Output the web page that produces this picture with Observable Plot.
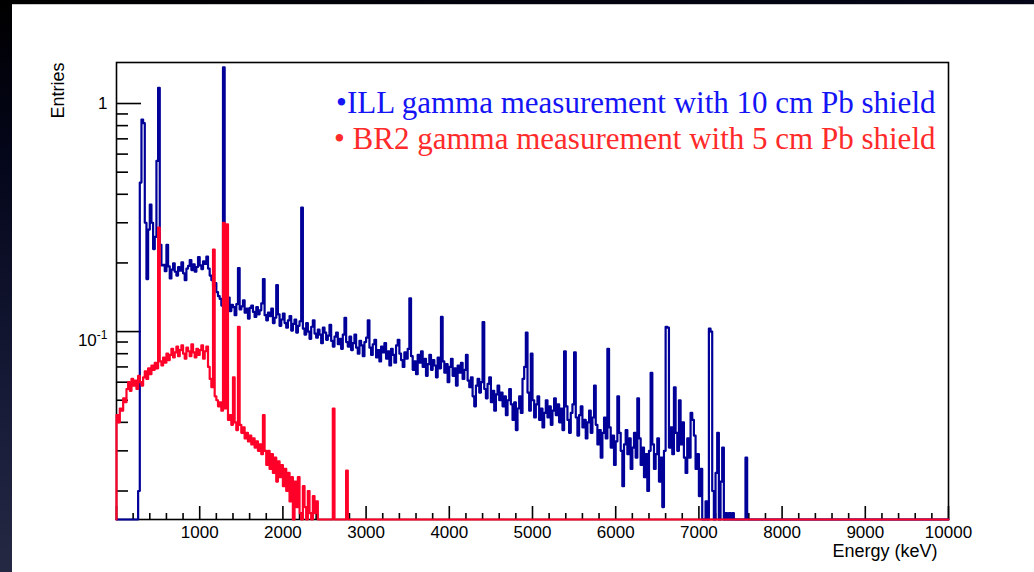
<!DOCTYPE html>
<html>
<head>
<meta charset="utf-8">
<script src="https://cdn.jsdelivr.net/npm/d3@7"></script>
<script src="https://cdn.jsdelivr.net/npm/@observablehq/plot@0.6"></script>
<style>
  html, body { margin: 0; padding: 0; }
  body {
    width: 1034px; height: 572px; overflow: hidden; position: relative;
    background: linear-gradient(172deg, #000000 0%, #04061a 22%, #161a36 55%, #30344e 100%);
  }
  #panel {
    position: absolute; left: 12px; top: 4px; width: 1022px; height: 568px;
    box-sizing: border-box; border-top: 1px solid #c9c9c9; background: #ffffff;
  }
  #panel svg { display: block; }
</style>
</head>
<body>
<div id="panel"></div>
<script>
// Gamma spectra, 20 keV bins, normalised entries per bin.
const binWidth = 20;

// ILL measurement (10 cm Pb shield), bins starting at 240 keV
const illStart = 240;
const illCounts = [
  0.005, 0.02, 0.45, 0.85, 0.82, 0.30, 0.17, 0.28, 0.36, 0.30,          // 240–420
  0.23, 0.26, 0.56, 1.17, 0.24, 0.195, 0.196, 0.184, 0.240, 0.193,      // 440–620
  0.171, 0.187, 0.199, 0.183, 0.176, 0.192, 0.185, 0.201, 0.180, 0.168, // 640–820
  0.189, 0.194, 0.206, 0.186, 0.197, 0.183, 0.192, 0.212, 0.195, 0.188, // 840–1020
  0.203, 0.198, 0.213, 0.189, 0.176, 0.168, 0.159, 0.163, 0.149, 0.143, // 1040–1220
  0.139, 0.130, 1.44, 0.134, 0.127, 0.141, 0.123, 0.131, 0.128, 0.118,  // 1240–1420
  0.132, 0.19, 0.125, 0.129, 0.137, 0.121, 0.126, 0.114, 0.127, 0.130,  // 1440–1620
  0.122, 0.116, 0.128, 0.119, 0.124, 0.133, 0.17, 0.118, 0.112, 0.121,  // 1640–1820
  0.117, 0.126, 0.109, 0.115, 0.16, 0.119, 0.106, 0.113, 0.120, 0.109,  // 1840–2020
  0.104, 0.112, 0.117, 0.101, 0.108, 0.113, 0.099, 0.106, 0.111, 0.35,  // 2040–2220
  0.103, 0.097, 0.109, 0.100, 0.093, 0.105, 0.112, 0.098, 0.094, 0.102, // 2240–2420
  0.097, 0.089, 0.104, 0.099, 0.092, 0.096, 0.107, 0.091, 0.086, 0.095, // 2440–2620
  0.099, 0.088, 0.093, 0.084, 0.097, 0.115, 0.090, 0.086, 0.095, 0.083, // 2640–2820
  0.089, 0.097, 0.085, 0.080, 0.091, 0.087, 0.078, 0.090, 0.094, 0.112, // 2840–3020
  0.085, 0.079, 0.088, 0.092, 0.077, 0.083, 0.074, 0.086, 0.081, 0.089, // 3040–3220
  0.076, 0.082, 0.071, 0.084, 0.079, 0.073, 0.087, 0.092, 0.080, 0.075, // 3240–3420
  0.070, 0.081, 0.076, 0.084, 0.14, 0.078, 0.068, 0.074, 0.065, 0.079,  // 3440–3620
  0.073, 0.082, 0.070, 0.076, 0.064, 0.072, 0.079, 0.068, 0.075, 0.071, // 3640–3820
  0.063, 0.077, 0.069, 0.116, 0.074, 0.066, 0.072, 0.060, 0.070, 0.076, // 3840–4020
  0.064, 0.069, 0.058, 0.071, 0.066, 0.073, 0.062, 0.068, 0.079, 0.061, // 4040–4220
  0.057, 0.063, 0.052, 0.047, 0.058, 0.062, 0.054, 0.060, 0.11, 0.056,  // 4240–4420
  0.051, 0.059, 0.063, 0.049, 0.055, 0.045, 0.053, 0.058, 0.050, 0.054, // 4440–4620
  0.047, 0.052, 0.043, 0.050, 0.056, 0.048, 0.041, 0.049, 0.037, 0.046, // 4640–4820
  0.052, 0.044, 0.062, 0.070, 0.099, 0.054, 0.045, 0.080, 0.050, 0.042, // 4840–5020
  0.048, 0.052, 0.041, 0.046, 0.038, 0.044, 0.050, 0.042, 0.047, 0.039, // 5040–5220
  0.045, 0.051, 0.043, 0.048, 0.040, 0.046, 0.037, 0.082, 0.047, 0.041, // 5240–5420
  0.036, 0.044, 0.048, 0.081, 0.042, 0.035, 0.043, 0.047, 0.038, 0.041, // 5440–5620
  0.034, 0.040, 0.045, 0.036, 0.042, 0.058, 0.039, 0.032, 0.037, 0.028, // 5640–5820
  0.036, 0.042, 0.034, 0.084, 0.038, 0.031, 0.035, 0.026, 0.033, 0.052, // 5840–6020
  0.036, 0.030, 0.021, 0.032, 0.037, 0.029, 0.034, 0.025, 0.031, 0.036, // 6040–6220
  0.028, 0.051, 0.034, 0.026, 0.031, 0.023, 0.029, 0.020, 0.030, 0.066, // 6240–6420
  0.032, 0.025, 0.029, 0.034, 0.022, 0.028, 0.017, 0.030, 0.105, 0.104, // 6440–6620
  0.031, 0.038, 0.029, 0.057, 0.036, 0.030, 0.050, 0.032, 0.040, 0.028, // 6640–6820
  0.024, 0.034, 0.028, 0.044, 0.041, 0.035, 0.025, 0.029, 0.019, 0.025, // 6840–7020
  0, 0, 0.018, 0, 0.103, 0.10, 0.02, 0, 0.024, 0.036,                   // 7040–7220
  0, 0.022, 0.031, 0, 0.016, 0, 0.016, 0, 0.016, 0,                     // 7240–7420
  0, 0, 0, 0, 0, 0, 0.028, 0                                            // 7440–7580
];

// BR2 measurement (5 cm Pb shield), bins starting at 0 keV
const br2Start = 0;
const br2Counts = [
  0.043, 0.040, 0.046, 0.045, 0.051, 0.049, 0.056, 0.060, 0.055, 0.062, // 0–180
  0.058, 0.061, 0.056, 0.064, 0.060, 0.058, 0.063, 0.067, 0.062, 0.069, // 200–380
  0.065, 0.071, 0.068, 0.073, 0.069, 0.286, 0.074, 0.071, 0.077, 0.073, // 400–580
  0.080, 0.075, 0.079, 0.084, 0.077, 0.081, 0.086, 0.078, 0.083, 0.087, // 600–780
  0.080, 0.076, 0.085, 0.082, 0.078, 0.088, 0.081, 0.077, 0.084, 0.079, // 800–980
  0.083, 0.087, 0.076, 0.082, 0.086, 0.070, 0.062, 0.057, 0.229, 0.052, // 1000–1180
  0.050, 0.047, 0.049, 0.045, 0.30, 0.046, 0.295, 0.041, 0.043, 0.039,  // 1200–1380
  0.063, 0.040, 0.037, 0.105, 0.039, 0.036, 0.038, 0.034, 0.036, 0.033, // 1400–1580
  0.035, 0.032, 0.034, 0.031, 0.033, 0.030, 0.032, 0.029, 0.043, 0.030, // 1600–1780
  0.026, 0.030, 0.025, 0.029, 0.024, 0.028, 0.022, 0.027, 0.023, 0.026, // 1800–1980
  0.021, 0.025, 0.020, 0.024, 0.018, 0.023, 0, 0.022, 0.017, 0.023,     // 2000–2180
  0.016, 0, 0.021, 0.017, 0.015, 0.020, 0.016, 0, 0.019, 0.016,         // 2200–2380
  0.018, 0, 0, 0, 0, 0, 0, 0, 0, 0,                                     // 2400–2580
  0.046, 0, 0, 0, 0, 0, 0, 0, 0.0246, 0                                 // 2600–2780
];

// Axis ranges and ticks
const xDomain = [0, 10000];
const yDomain = [0.015, 1.513];
const xLabelTicks = [1000, 2000, 3000, 4000, 5000, 6000, 7000, 8000, 9000, 10000];
const xMajorTicks = [0, 1000, 2000, 3000, 4000, 5000, 6000, 7000, 8000, 9000, 10000];
const xMinorTicks = d3.range(200, 10000, 200).filter(v => v % 1000 !== 0);
const yMajorTicks = [0.1, 1];
const yMinorTicks = [0.02, 0.03, 0.04, 0.05, 0.06, 0.07, 0.08, 0.09,
                     0.2, 0.3, 0.4, 0.5, 0.6, 0.7, 0.8, 0.9];

const legendIll = "•ILL gamma measurement with 10 cm Pb shield";
const legendBr2 = "• BR2 gamma measurement with 5 cm Pb shield";
const xTitle = "Energy (keV)";
const yTitle = "Entries";

// Histogram outline as step points; empty bins sit on the lower edge
function histogramPoints(start, counts) {
  const pts = [{E: 0, v: 0}];
  counts.forEach((v, i) => pts.push({E: start + i * binWidth, v}));
  pts.push({E: start + counts.length * binWidth, v: 0});
  pts.push({E: xDomain[1], v: 0});
  return pts;
}
const ill = histogramPoints(illStart, illCounts);
const br2 = histogramPoints(br2Start, br2Counts);
const floorY = v => Math.max(v, yDomain[0]);

const sans = "'Liberation Sans', Arial, Helvetica, sans-serif";
const serif = "'Liberation Serif', 'Times New Roman', serif";
const tickStroke = 1.6;

const chart = Plot.plot({
  width: 1022,
  height: 567,
  marginLeft: 104,
  marginRight: 86,
  marginTop: 57,
  marginBottom: 53,
  style: {fontFamily: sans, fontSize: "17px", color: "#000", background: "transparent", overflow: "visible"},
  x: {domain: xDomain},
  y: {type: "log", domain: yDomain},
  marks: [
    Plot.frame({stroke: "#000", strokeWidth: 1.6}),
    // x ticks, drawn inward from the lower edge
    Plot.axisX({ticks: xMinorTicks, tickSize: 6, dy: -6, tickFormat: () => "", label: null, strokeWidth: tickStroke}),
    Plot.axisX({ticks: xMajorTicks, tickSize: 13, dy: -13, tickFormat: () => "", label: null, strokeWidth: tickStroke}),
    Plot.axisX({ticks: xLabelTicks, tickSize: 0, tickPadding: 6, tickFormat: d => String(d), label: null, fontSize: 17}),
    // y ticks, drawn inward from the left edge
    Plot.axisY({ticks: yMinorTicks, tickSize: 12, dx: 12, tickFormat: () => "", label: null, strokeWidth: tickStroke}),
    Plot.axisY({ticks: yMajorTicks, tickSize: 25, dx: 25, tickFormat: () => "", label: null, strokeWidth: tickStroke}),
    Plot.axisY({ticks: yMajorTicks, tickSize: 0, tickPadding: 9, tickFormat: d => d === 1 ? "1" : "10", label: null, fontSize: 17}),
    // spectra
    Plot.line(ill, {x: "E", y: d => floorY(d.v), curve: "step-after", stroke: "#000099", strokeWidth: 2.2}),
    Plot.line(br2, {x: "E", y: d => floorY(d.v), curve: "step-after", stroke: "#ff0028", strokeWidth: 2.2}),
    // axis titles
    Plot.text([yTitle], {text: d => d, frameAnchor: "top-left", dx: -58, rotate: -90, textAnchor: "end", lineAnchor: "middle", fontSize: 18}),
    Plot.text([xTitle], {text: d => d, frameAnchor: "bottom-right", dx: -11, dy: 32, textAnchor: "end", lineAnchor: "middle", fontSize: 18}),
    // legend
    Plot.text([legendIll], {text: d => d, frameAnchor: "top-right", dx: -13, dy: 41, textAnchor: "end", lineAnchor: "middle", fontSize: 31, fontFamily: serif, fill: "#1414f5"}),
    Plot.text([legendBr2], {text: d => d, frameAnchor: "top-right", dx: -13, dy: 77, textAnchor: "end", lineAnchor: "middle", fontSize: 31, fontFamily: serif, fill: "#ff2b2b"})
  ]
});

// exponent on the 10^-1 label
d3.select(chart).selectAll('g[aria-label^="y-axis tick"] text').each(function () {
  const t = d3.select(this);
  if (t.text() === "10") {
    t.attr("dy", "0.55em");
    t.append("tspan").attr("dy", "-0.6em").attr("font-size", 12).text("-1");
  }
});

document.getElementById("panel").appendChild(chart);
</script>
</body>
</html>
